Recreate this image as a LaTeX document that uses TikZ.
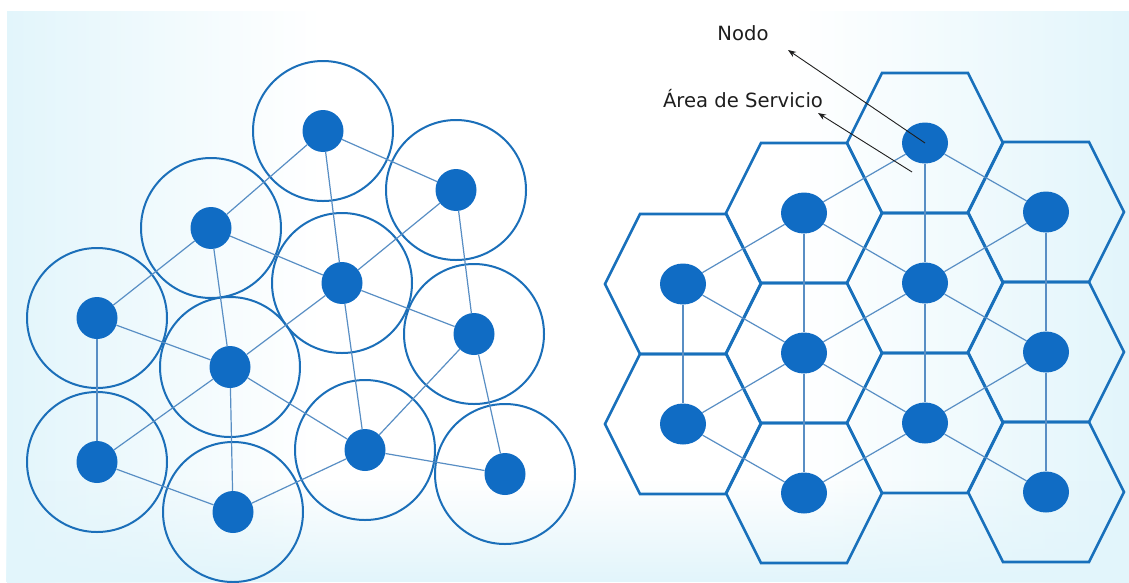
\documentclass[tikz,border=0pt]{standalone}
\usepackage{fontspec}
\setmainfont{DejaVu Sans}
\usetikzlibrary{shapes.geometric,arrows.meta,fadings}

\definecolor{bgc}{RGB}{226,245,251}
\definecolor{dotc}{RGB}{16,108,196}
\definecolor{ringc}{RGB}{27,111,185}
\definecolor{hexc}{RGB}{24,112,187}
\definecolor{linkc}{RGB}{88,142,196}
\definecolor{inkc}{RGB}{30,30,30}

\pgfdeclarehorizontalshading{panelh}{100bp}{color(0bp)=(bgc); color(25bp)=(bgc); color(39bp)=(white); color(60bp)=(white); color(75bp)=(bgc); color(100bp)=(bgc)}

\tikzset{
  dot/.style={ellipse, fill=dotc, inner sep=0pt, minimum width=41pt, minimum height=42pt},
  hdot/.style={dot, minimum width=46pt, minimum height=41pt},
  ring/.style={draw=ringc, line width=2pt},
  hexline/.style={draw=hexc, line width=2.6pt, line join=miter},
  link/.style={draw=linkc, line width=1.2pt},
  pointer/.style={draw=inkc, line width=0.9pt, -{Stealth[length=8pt,width=6pt]}},
  lbl/.style={font=\fontsize{19.6}{22}\selectfont, text=inkc, anchor=base, inner sep=0pt}
}

% hexagonal service area centred on a node
\newcommand\hexarea[1]{%
  \draw[hexline] (#1.center) ++(-78,0) -- ++(35,-70) -- ++(86,0) -- ++(35,70)
    -- ++(-35,70) -- ++(-86,0) -- cycle;}

\begin{document}
\begin{tikzpicture}[x=1pt,y=-1pt]
\useasboundingbox (0,0) rectangle (1129,582);

% background panel
\shade[shading=panelh] (7,11) rectangle (1129,582);
\fill[bgc, path fading=north] (7,480) rectangle (1129,582);

% ---------- mesh with circular coverage ----------
\node[dot] (L1)  at (323,131) {};
\node[dot] (L2)  at (456,190) {};
\node[dot] (L3)  at (211,228) {};
\node[dot] (L4)  at (342,283) {};
\node[dot] (L5)  at (97,318)  {};
\node[dot] (L6)  at (474,334) {};
\node[dot] (L7)  at (230,367) {};
\node[dot] (L8)  at (97,462)  {};
\node[dot] (L9)  at (365,450) {};
\node[dot] (L10) at (505,474) {};
\node[dot] (L11) at (233,512) {};

\foreach \n in {L1,L2,L3,L4,L5,L6,L7,L8,L9,L10,L11}
  {\draw[ring] (\n.center) circle[radius=70];}

\foreach \a/\b in {L1/L2,L1/L3,L1/L4,L2/L4,L2/L6,L3/L4,L3/L5,L3/L7,L4/L6,L4/L7,
                   L4/L9,L5/L7,L5/L8,L6/L9,L6/L10,L7/L8,L7/L9,L7/L11,L8/L11,L9/L10,L9/L11}
  {\draw[link] (\a) -- (\b);}

% ---------- mesh with hexagonal coverage ----------
\node[hdot] (A1) at (683,284)  {};
\node[hdot] (A2) at (683,424)  {};
\node[hdot] (B1) at (804,213)  {};
\node[hdot] (B2) at (804,353)  {};
\node[hdot] (B3) at (804,493)  {};
\node[hdot] (C1) at (925,143)  {};
\node[hdot] (C2) at (925,283)  {};
\node[hdot] (C3) at (925,423)  {};
\node[hdot] (D1) at (1046,212) {};
\node[hdot] (D2) at (1046,352) {};
\node[hdot] (D3) at (1046,492) {};

\foreach \n in {A1,A2,B1,B2,B3,C1,C2,C3,D1,D2,D3}
  {\hexarea{\n}}

\foreach \a/\b in {C1/B1,C1/D1,C1/C2,B1/A1,B1/C2,B1/B2,D1/C2,D1/D2,A1/A2,A1/B2,
                   C2/B2,C2/D2,C2/C3,B2/A2,B2/C3,B2/B3,D2/C3,D2/D3,A2/B3,C3/B3,C3/D3}
  {\draw[link] (\a) -- (\b);}

% ---------- labels ----------
\node[lbl] (nodolbl) at (743,40) {Nodo};
\node[lbl] (arealbl) at (743,107) {Área de Servicio};
\coordinate (nodotip) at (788,50);
\coordinate (areatip) at (818,113);
\coordinate (areafoot) at (912,172);
\draw[pointer] (C1.center) -- (nodotip);
\draw[pointer] (areafoot) -- (areatip);
\end{tikzpicture}
\end{document}
